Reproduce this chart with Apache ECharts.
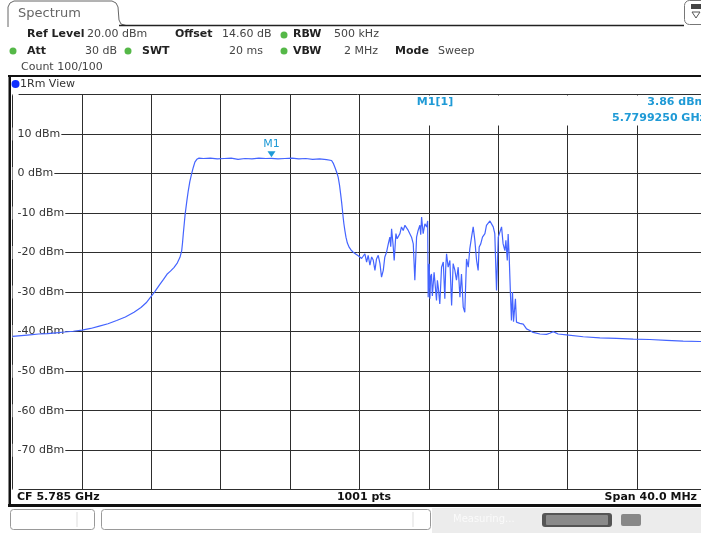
<!DOCTYPE html>
<html><head><meta charset="utf-8">
<script src="https://cdn.jsdelivr.net/npm/echarts@6/dist/echarts.min.js"></script>
<style>html,body{margin:0;padding:0;background:#fff;overflow:hidden}#c{width:701px;height:533px}</style>
</head><body><div id="c"></div>
<script>
// ---- data ----
const startMHz = 5765;
const stopMHz = 5805;
const divMHz = 4;
const freqOffsetMHz = [
 0.0,0.5,1.0,1.5,2.0,2.5,3.0,3.5,4.0,4.5,5.0,5.5,6.0,6.5,7.0,7.4,7.7,8.0,8.2,8.5,8.7,8.9,9.1,9.3,9.5,9.65,9.75,9.8,9.84,9.9,9.95,
 10.05,10.13,10.22,10.32,10.42,10.51,10.62,10.75,11.0,11.4,11.8,12.2,12.6,13.0,13.4,13.8,14.2,14.6,14.925,15.3,15.7,16.1,16.5,16.9,17.3,17.7,18.1,18.39,
 18.5,18.58,18.68,18.77,18.85,18.91,18.97,19.02,19.06,19.10,19.16,19.22,19.3,19.41,19.52,19.64,19.8,19.93,
 20.02,20.12,20.22,20.31,20.41,20.50,20.60,20.70,20.79,20.89,20.98,21.08,21.18,21.27,21.37,21.46,21.56,21.66,21.75,21.80,21.85,21.94,22.00,
 22.10,22.17,22.23,22.33,22.42,22.52,22.62,22.71,22.81,22.90,23.00,23.10,23.19,23.29,23.38,23.48,23.53,23.58,23.67,23.77,23.87,23.93,23.96,
 24.02,24.06,24.10,24.15,24.20,24.25,24.30,24.35,24.44,24.49,24.54,24.63,24.73,24.83,24.92,24.97,25.02,25.11,25.21,25.31,25.40,25.50,25.59,
 25.69,25.79,25.88,25.98,26.07,26.17,26.27,26.36,26.46,26.555,26.65,26.75,26.84,26.90,26.99,27.09,27.23,27.32,27.42,27.52,27.61,27.71,27.80,
 27.90,28.00,28.09,28.19,28.28,28.38,28.44,28.52,28.57,28.63,28.71,28.76,28.82,28.88,28.99,29.05,29.15,
 29.24,29.44,29.63,29.82,30.01,30.40,30.78,30.97,31.17,31.45,31.93,32.90,33.86,34.82,35.78,36.74,37.70,38.66,39.62,40.0
];
const levelDbm = [
 -41.2,-41.0,-40.8,-40.6,-40.5,-40.3,-40.1,-39.9,-39.6,-39.2,-38.6,-38.0,-37.2,-36.3,-35.1,-33.9,-32.7,-31.0,-29.9,-28.0,-26.8,-25.5,-24.7,-23.8,-22.6,-21.2,-19.5,-17.4,-15.3,-12.5,-10.2,
 -6.8,-4.3,-2.0,-0.1,1.6,2.9,3.6,3.9,3.8,3.9,3.7,3.8,3.9,3.6,3.8,3.7,3.9,3.8,3.86,3.7,3.8,3.9,3.7,3.8,3.6,3.7,3.5,3.3,
 2.5,1.6,0.4,-0.9,-3.0,-5.1,-7.3,-9.4,-11.2,-12.7,-14.5,-16.1,-17.6,-18.7,-19.4,-19.9,-20.4,-20.8,
 -20.7,-21.5,-22.0,-20.3,-22.4,-20.7,-23.2,-21.1,-21.9,-24.5,-21.6,-20.7,-22.8,-26.2,-24.5,-21.1,-19.9,-17.8,-16.1,-18.5,-14.0,-18.2,-22.0,
 -15.2,-16.5,-16.9,-15.2,-13.5,-14.4,-13.1,-13.5,-14.4,-14.0,-16.1,-17.8,-27.0,-16.1,-14.4,-13.1,-15.5,-11.0,-15.2,-12.7,-13.5,-12.0,-31.3,
 -22.8,-31.7,-26.0,-25.4,-31.0,-31.3,-25.0,-25.4,-32.1,-27.0,-28.7,-33.0,-23.7,-22.4,-31.7,-24.0,-20.3,-23.7,-22.0,-33.4,-22.8,-24.5,-27.0,
 -23.7,-31.3,-25.4,-33.8,-35.1,-21.6,-23.7,-19.0,-16.1,-13.5,-16.9,-22.0,-24.5,-18.6,-17.8,-16.1,-15.2,-13.1,-13.5,-12.0,-12.3,-13.5,-15.2,
 -29.6,-16.1,-16.5,-13.5,-17.8,-19.5,-16.9,-22.0,-15.3,-21.0,-31.3,-37.2,-30.0,-37.5,-31.7,-37.6,-37.8,
 -37.9,-38.1,-39.3,-39.7,-40.2,-40.6,-40.7,-40.4,-40.0,-40.6,-40.8,-41.3,-41.6,-41.7,-41.9,-42.0,-42.2,-42.4,-42.5,-42.5
];
const yMin = -80, yMax = 20, yStep = 10;
const markerFreqMHz = 5779.925;
const markerLevelDbm = 3.86;
const markerName = 'M1';
const markerReadout = ['M1[1]', '3.86 dBm', '5.7799250 GHz'];
const footerTexts = ['CF 5.785 GHz', '1001 pts', 'Span 40.0 MHz'];

// ---- build ----
const traceData = freqOffsetMHz.map((f, i) => [startMHz + f, levelDbm[i]]);
const F = '"DejaVu Sans", Verdana, sans-serif';
const blue = '#1f9ad6';
const green = '#55b848';

function txt(x, y, s, opt) {
  opt = opt || {};
  return { type: 'text', z: 5, silent: true, style: {
    x: x, y: y, text: s, fill: opt.fill || '#222',
    font: (opt.bold ? 'bold ' : '') + (opt.size || 11) + 'px ' + F,
    align: opt.align || 'left', textAlign: opt.align || 'left',
    verticalAlign: 'middle', textVerticalAlign: 'middle'
  }};
}
function dot(cx, cy, c, r) {
  return { type: 'circle', z: 5, silent: true, shape: { cx: cx, cy: cy, r: r || 3.5 }, style: { fill: c } };
}
function ln(x1, y1, x2, y2, c, w) {
  return { type: 'line', z: 5, silent: true, shape: { x1: x1, y1: y1, x2: x2, y2: y2 }, style: { stroke: c, lineWidth: w } };
}

const graphics = [
  // tab
  { type: 'polyline', z: 5, silent: true, shape: { points: [[8,27],[8,7],[10,3],[14,1],[112,1],[116,3],[118,7],[119,20],[121,24],[126,25.5],[682,25.5]] },
    style: { stroke: '#666', lineWidth: 1, fill: null } },
  ln(119, 25.5, 684, 25.5, '#222', 1.5),
  { type: 'rect', z: 5, silent: true, shape: { x: 684.5, y: 0.5, width: 22, height: 24, r: 5 }, style: { fill: '#fff', stroke: '#777', lineWidth: 1 } },
  { type: 'rect', z: 5, silent: true, shape: { x: 691, y: 4, width: 10, height: 5 }, style: { fill: '#444' } },
  { type: 'polygon', z: 5, silent: true, shape: { points: [[692,12],[700,12],[696,18]] }, style: { fill: null, stroke: '#555', lineWidth: 1 } },
  txt(18, 13.5, 'Spectrum', { size: 13, fill: '#666' }),
  // settings rows
  txt(27, 34.5, 'Ref Level', { bold: true }),
  txt(87, 34.5, '20.00 dBm', { fill: '#444' }),
  txt(175, 34.5, 'Offset', { bold: true }),
  txt(222, 34.5, '14.60 dB', { fill: '#444' }),
  dot(284, 35, green),
  txt(293, 34.5, 'RBW', { bold: true }),
  txt(334, 34.5, '500 kHz', { fill: '#444' }),
  dot(13, 51, green),
  txt(27, 51, 'Att', { bold: true }),
  txt(117, 51, '30 dB', { fill: '#444', align: 'right' }),
  dot(128, 51, green),
  txt(142, 51, 'SWT', { bold: true }),
  txt(263, 51, '20 ms', { fill: '#444', align: 'right' }),
  dot(284, 51, green),
  txt(293, 51, 'VBW', { bold: true }),
  txt(378, 51, '2 MHz', { fill: '#444', align: 'right' }),
  txt(395, 51, 'Mode', { bold: true }),
  txt(438, 51, 'Sweep', { fill: '#444' }),
  txt(21, 67, 'Count 100/100', { fill: '#444' }),
  // frame
  ln(8, 76, 701, 76, '#111', 2),
  { type: 'rect', z: 5, silent: true, shape: { x: 8.5, y: 76, width: 2.5, height: 431 }, style: { fill: '#111' } },
  dot(15.5, 84, '#1030ff', 4),
  txt(20, 84, '1Rm View', { fill: '#333' }),
  // marker readout box (covers grid)
  { type: 'rect', z: 1, silent: true, shape: { x: 361, y: 95.5, width: 345, height: 30 }, style: { fill: '#fff' } },
  txt(435, 102.5, markerReadout[0], { fill: blue, bold: true, align: 'center' }),
  txt(706, 102.5, markerReadout[1], { fill: blue, bold: true, align: 'right' }),
  txt(706, 118, markerReadout[2], { fill: blue, bold: true, align: 'right' }),
  // footer
  txt(17, 497, footerTexts[0], { bold: true, fill: '#111' }),
  txt(364, 497, footerTexts[1], { bold: true, fill: '#111', align: 'center' }),
  txt(697, 497, footerTexts[2], { bold: true, fill: '#111', align: 'right' }),
  ln(8, 505.5, 701, 505.5, '#111', 3),
  // status bar
  { type: 'rect', z: 5, silent: true, shape: { x: 432, y: 508, width: 269, height: 25 }, style: { fill: '#ececec' } },
  { type: 'rect', z: 5, silent: true, shape: { x: 10.5, y: 509.5, width: 84, height: 20, r: 3 }, style: { fill: '#fff', stroke: '#999', lineWidth: 1 } },
  ln(77, 512, 77, 527, '#ddd', 1),
  { type: 'rect', z: 5, silent: true, shape: { x: 101.5, y: 509.5, width: 329, height: 20, r: 3 }, style: { fill: '#fff', stroke: '#999', lineWidth: 1 } },
  ln(413, 512, 413, 527, '#ddd', 1),
  txt(453, 519, 'Measuring...', { fill: '#fafafa', size: 10 }),
  { type: 'rect', z: 5, silent: true, shape: { x: 542, y: 513, width: 70, height: 14, r: 3 }, style: { fill: '#555' } },
  { type: 'rect', z: 5, silent: true, shape: { x: 546, y: 515, width: 62, height: 10, r: 1 }, style: { fill: '#8a8a8a' } },
  { type: 'rect', z: 5, silent: true, shape: { x: 621, y: 514, width: 20, height: 12, r: 2 }, style: { fill: '#888' } }
];

const chart = echarts.init(document.getElementById('c'), null, { renderer: 'canvas' });
chart.setOption({
  animation: false,
  backgroundColor: '#fff',
  grid: { left: 12.6, width: 693.8, top: 94.5, height: 395.2, containLabel: false, outerBoundsMode: 'none' },
  xAxis: {
    type: 'value', min: startMHz, max: stopMHz, interval: divMHz,
    axisLine: { show: false }, axisTick: { show: false }, axisLabel: { show: false },
    splitLine: { show: true, lineStyle: { color: '#2e2e2e', width: 1 } }
  },
  yAxis: {
    type: 'value', min: yMin, max: yMax, interval: yStep,
    axisLine: { show: false }, axisTick: { show: false },
    axisLabel: {
      inside: true, margin: 0, color: '#333', fontFamily: F, fontSize: 11,
      backgroundColor: '#fff', padding: [1, 1, 1, 5],
      formatter: v => (v === yMax || v === yMin) ? '' : v + ' dBm'
    },
    splitLine: { show: true, lineStyle: { color: '#2e2e2e', width: 1 } }
  },
  series: [{
    type: 'line', data: traceData, showSymbol: false, symbol: 'none',
    lineStyle: { color: '#4464ff', width: 1.2 }, z: 3,
    markPoint: {
      symbol: 'triangle', symbolSize: [8, 6], symbolRotate: 180, symbolOffset: [0, -4],
      itemStyle: { color: blue },
      label: { show: true, position: 'top', distance: 2, color: blue, fontFamily: F, fontSize: 11, formatter: markerName },
      data: [{ coord: [markerFreqMHz, markerLevelDbm] }]
    }
  }],
  graphic: graphics
});
</script>
</body></html>
